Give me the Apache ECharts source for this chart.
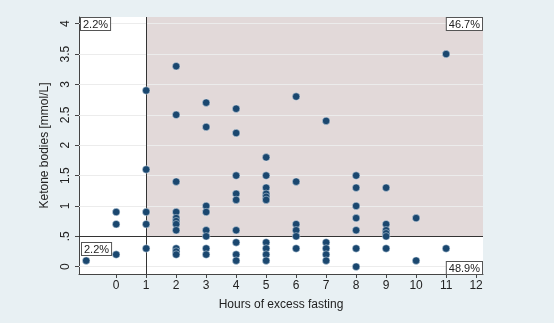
<!DOCTYPE html>
<html>
<head>
<meta charset="utf-8">
<script src="https://cdn.jsdelivr.net/npm/echarts@6/dist/echarts.min.js"></script>
<style>
html, body { margin: 0; padding: 0; background: #e8f0f3; }
#Chart { width: 554px; height: 323px; }
</style>
</head>
<body>
<div id="Chart"></div>
<script>
// hours of excess fasting and ketone bodies, one pair per point
var hours = [
    -1,
    0, 0, 0,
    1, 1, 1, 1, 1,
    2, 2, 2, 2, 2, 2, 2, 2, 2, 2, 2,
    3, 3, 3, 3, 3, 3, 3, 3,
    4, 4, 4, 4, 4, 4, 4, 4, 4,
    5, 5, 5, 5, 5, 5, 5, 5, 5, 5,
    6, 6, 6, 6, 6, 6,
    7, 7, 7, 7, 7,
    8, 8, 8, 8, 8, 8, 8,
    9, 9, 9, 9, 9, 9,
    10, 10,
    11, 11
];
var ketones = [
    0.1,
    0.9, 0.7, 0.2,
    2.9, 1.6, 0.9, 0.7, 0.3,
    3.3, 2.5, 1.4, 0.9, 0.8, 0.75, 0.7, 0.6, 0.3, 0.25, 0.2,
    2.7, 2.3, 1.0, 0.9, 0.6, 0.5, 0.3, 0.2,
    2.6, 2.2, 1.5, 1.2, 1.1, 0.6, 0.4, 0.2, 0.1,
    1.8, 1.5, 1.3, 1.2, 1.15, 1.1, 0.4, 0.3, 0.2, 0.1,
    2.8, 1.4, 0.7, 0.6, 0.5, 0.3,
    2.4, 0.4, 0.3, 0.2, 0.1,
    1.5, 1.3, 1.0, 0.8, 0.6, 0.3, 0.0,
    1.3, 0.7, 0.6, 0.55, 0.5, 0.3,
    0.8, 0.1,
    3.5, 0.3
];
var xTicks = [0, 1, 2, 3, 4, 5, 6, 7, 8, 9, 10, 11, 12];
var yTicks = [0, 0.5, 1, 1.5, 2, 2.5, 3, 3.5, 4];
var cutHours = 1;
var cutKetone = 0.5;
var quadrantLabels = ['2.2%', '46.7%', '2.2%', '48.9%'];

var xMin = -1.24, xMax = 12.23, yMin = -0.12, yMax = 4.11;

var points = hours.map(function (h, i) { return [h, ketones[i]]; });

var Chart = echarts.init(document.getElementById('Chart'));

var boxStyle = {
    fontFamily: 'Liberation Sans',
    fontSize: 11,
    fill: '#222',
    backgroundColor: '#fff',
    borderColor: '#555',
    borderWidth: 1,
    padding: [1, 2, 0, 2]
};

var ChartOption = {
    backgroundColor: '#e8f0f3',
    animation: false,
    grid: { left: 79, right: 71, top: 17, bottom: 49, show: true, backgroundColor: '#fff', borderWidth: 0 },
    xAxis: {
        type: 'value',
        min: xMin,
        max: xMax,
        name: 'Hours of excess fasting',
        nameLocation: 'middle',
        nameGap: 25,
        nameTextStyle: { fontFamily: 'Liberation Sans', fontSize: 12, color: '#222' },
        axisLine: { show: true, onZero: false, lineStyle: { color: '#444' } },
        axisTick: { show: true, length: 4, customValues: xTicks, lineStyle: { color: '#444' } },
        axisLabel: { customValues: xTicks, fontFamily: 'Liberation Sans', fontSize: 12, color: '#222', margin: 6 },
        splitLine: { show: false },
        z: 4
    },
    yAxis: {
        type: 'value',
        min: yMin,
        max: yMax,
        name: 'Ketone bodies [mmol/L]',
        nameLocation: 'middle',
        nameGap: 28,
        nameTextStyle: { fontFamily: 'Liberation Sans', fontSize: 12, color: '#222' },
        axisLine: { show: true, onZero: false, lineStyle: { color: '#444' } },
        axisTick: { show: true, length: 4, customValues: yTicks, lineStyle: { color: '#444' } },
        axisLabel: {
            customValues: yTicks,
            rotate: 90,
            fontFamily: 'Liberation Sans',
            fontSize: 12,
            color: '#222',
            margin: 7,
            formatter: function (v) { return String(v).replace(/^0\./, '.'); }
        },
        splitLine: { show: false },
        z: 4
    },
    series: [{
        // background: shaded quadrant, gridlines and cut-off lines
        type: 'scatter',
        data: [],
        silent: true,
        z: 1,
        markArea: {
            silent: true,
            itemStyle: { color: '#e2d9d9' },
            data: [[{ coord: [cutHours, cutKetone] }, { coord: [xMax, yMax] }]]
        },
        markLine: {
            silent: true,
            symbol: 'none',
            label: { show: false },
            data: yTicks.map(function (v) {
                return { yAxis: v, lineStyle: { color: '#ececec', width: 1, type: 'solid' } };
            }).concat([
                { xAxis: cutHours, lineStyle: { color: '#333', width: 1, type: 'solid' } },
                { yAxis: cutKetone, lineStyle: { color: '#333', width: 1, type: 'solid' } }
            ])
        }
    }, {
        type: 'scatter',
        data: points,
        symbolSize: 7.5,
        itemStyle: { color: '#1a476f', borderColor: 'rgba(225,235,245,0.6)', borderWidth: 0.8, opacity: 1 },
        z: 5
    }],
    graphic: [
        { type: 'text', left: 80, top: 17, z: 10, style: Object.assign({ text: quadrantLabels[0] }, boxStyle) },
        { type: 'text', right: 71, top: 17, z: 10, style: Object.assign({ text: quadrantLabels[1] }, boxStyle) },
        { type: 'text', left: 81, top: 242, z: 10, style: Object.assign({ text: quadrantLabels[2] }, boxStyle) },
        { type: 'text', right: 71, top: 261, z: 10, style: Object.assign({ text: quadrantLabels[3] }, boxStyle) }
    ]
};

Chart.setOption(ChartOption);
window.addEventListener("resize", function () {
    Chart.resize();
});
</script>
</body>
</html>
